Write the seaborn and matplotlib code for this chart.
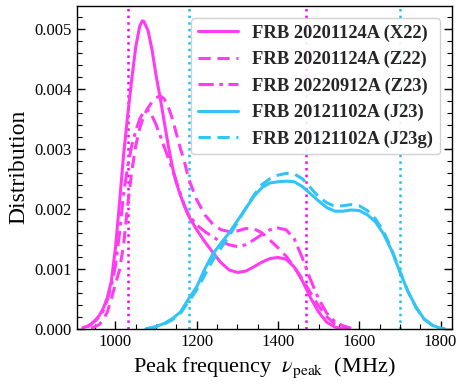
import numpy as np
import pandas as pd
import matplotlib
matplotlib.use("Agg")
import matplotlib.pyplot as plt
from matplotlib.ticker import MultipleLocator
import seaborn as sns

# ---- data ----
x22_f = [920, 930, 940, 950, 960, 970, 980, 990, 1000, 1010, 1020, 1030, 1040, 1050, 1060, 1066, 1070,
         1080, 1090, 1100, 1110, 1120, 1130, 1140, 1150, 1160, 1170, 1180, 1200, 1220, 1240, 1260, 1280,
         1300, 1320, 1340, 1360, 1380, 1400, 1420, 1440, 1460, 1480, 1500, 1520, 1540, 1560]
x22_d = [0.00002, 0.00004, 0.00008, 0.00014, 0.00022, 0.00034, 0.00052, 0.00080, 0.00135, 0.00210,
         0.00290, 0.00355, 0.00415, 0.00470, 0.00505, 0.00513, 0.00512, 0.00497, 0.00465, 0.00422,
         0.00385, 0.00345, 0.00305, 0.00270, 0.00243, 0.00222, 0.00204, 0.00188, 0.00165, 0.00145,
         0.00127, 0.00110, 0.00098, 0.00094, 0.00096, 0.00103, 0.00111, 0.00117, 0.00119, 0.00116,
         0.00103, 0.00080, 0.00052, 0.00028, 0.00011, 0.00003, 0.00000]

z22_f = [940, 960, 970, 980, 990, 1000, 1010, 1020, 1030, 1040, 1050, 1060, 1070, 1080, 1090, 1100,
         1110, 1120, 1130, 1140, 1150, 1160, 1170, 1180, 1200, 1220, 1240, 1260, 1280, 1300, 1320,
         1340, 1360, 1380, 1400, 1420, 1440, 1460, 1480, 1500, 1520, 1540, 1560, 1580]
z22_d = [0.00001, 0.00007, 0.00015, 0.00028, 0.00050, 0.00075, 0.00098, 0.00140, 0.00205, 0.00262,
         0.00305, 0.00335, 0.00355, 0.00368, 0.00378, 0.00385, 0.00388, 0.00383, 0.00370, 0.00350,
         0.00325, 0.00300, 0.00278, 0.00250, 0.00215, 0.00190, 0.00174, 0.00165, 0.00162, 0.00163,
         0.00167, 0.00167, 0.00160, 0.00148, 0.00135, 0.00121, 0.00103, 0.00083, 0.00060, 0.00038,
         0.00020, 0.00008, 0.00002, 0.00000]

z23_f = [930, 940, 950, 960, 970, 980, 990, 1000, 1010, 1020, 1030, 1040, 1050, 1060, 1070, 1077,
         1085, 1090, 1100, 1110, 1120, 1130, 1140, 1150, 1160, 1170, 1180, 1200, 1220, 1240, 1260,
         1280, 1300, 1320, 1340, 1360, 1380, 1400, 1420, 1440, 1460, 1480, 1500, 1520, 1540, 1560, 1580]
z23_d = [0.00003, 0.00008, 0.00013, 0.00020, 0.00030, 0.00048, 0.00072, 0.00105, 0.00160, 0.00225,
         0.00270, 0.00305, 0.00330, 0.00350, 0.00362, 0.00365, 0.00362, 0.00355, 0.00340, 0.00322,
         0.00303, 0.00285, 0.00265, 0.00245, 0.00225, 0.00205, 0.00190, 0.00173, 0.00162, 0.00153,
         0.00145, 0.00140, 0.00137, 0.00140, 0.00148, 0.00157, 0.00165, 0.00168, 0.00165, 0.00150,
         0.00118, 0.00082, 0.00050, 0.00026, 0.00012, 0.00005, 0.00001]

j23_f = [1075, 1100, 1120, 1140, 1160, 1180, 1200, 1220, 1240, 1260, 1280, 1300, 1320, 1340, 1360,
         1380, 1400, 1420, 1440, 1460, 1480, 1500, 1520, 1540, 1560, 1580, 1600, 1620, 1640, 1660,
         1680, 1700, 1720, 1740, 1760, 1780, 1800, 1810]
j23_d = [0.00000, 0.00004, 0.00009, 0.00017, 0.00028, 0.00050, 0.00070, 0.00100, 0.00125, 0.00143,
         0.00160, 0.00180, 0.00200, 0.00220, 0.00235, 0.00243, 0.00245, 0.00246, 0.00245, 0.00237,
         0.00225, 0.00213, 0.00202, 0.00196, 0.00196, 0.00198, 0.00197, 0.00190, 0.00178, 0.00158,
         0.00130, 0.00095, 0.00062, 0.00036, 0.00016, 0.00006, 0.00001, 0.00000]

j23g_f = j23_f
j23g_d = [0.00000, 0.00003, 0.00008, 0.00015, 0.00026, 0.00045, 0.00065, 0.00090, 0.00115, 0.00135,
          0.00155, 0.00177, 0.00200, 0.00222, 0.00240, 0.00250, 0.00256, 0.00259, 0.00258, 0.00250,
          0.00235, 0.00220, 0.00210, 0.00204, 0.00205, 0.00207, 0.00205, 0.00197, 0.00183, 0.00162,
          0.00132, 0.00096, 0.00062, 0.00035, 0.00016, 0.00006, 0.00001, 0.00000]

labels = ["FRB 20201124A (X22)", "FRB 20201124A (Z22)", "FRB 20220912A (Z23)",
          "FRB 20121102A (J23)", "FRB 20121102A (J23g)"]
vlines_magenta = [1030, 1470]
vlines_cyan = [1180, 1700]

# ---- style ----
sns.set_theme(style="ticks")
plt.rcParams["font.family"] = ["Liberation Serif", "DejaVu Serif"]
plt.rcParams["mathtext.fontset"] = "stix"

MAG = "#ff3cf2"
CYA = "#32c4f4"

fig = plt.figure(figsize=(4.63, 3.91), dpi=100)
ax = fig.add_axes([0.166, 0.159, 0.810, 0.826])

series = [
    (x22_f, x22_d, MAG, "-"),
    (z22_f, z22_d, MAG, (0, (4, 2.2))),
    (z23_f, z23_d, MAG, (0, (5, 1.8, 1.2, 1.8))),
    (j23_f, j23_d, CYA, "-"),
    (j23g_f, j23g_d, CYA, (0, (4, 2.2))),
]
for (f, d, c, ls), lab in zip(series, labels):
    sns.lineplot(x=f, y=d, ax=ax, color=c, linestyle=ls, linewidth=2.2, label=lab,
                 sort=False, estimator=None)

for v in vlines_magenta:
    ax.axvline(v, color="#ff00ff", linestyle=":", linewidth=1.8, zorder=0.5)
for v in vlines_cyan:
    ax.axvline(v, color="#1ec0f0", linestyle=":", linewidth=1.8, zorder=0.5)

ax.set_xlim(905, 1828)
ax.set_ylim(0, 0.00538)
ax.xaxis.set_major_locator(MultipleLocator(200))
ax.xaxis.set_minor_locator(MultipleLocator(50))
ax.yaxis.set_major_locator(MultipleLocator(0.001))
ax.yaxis.set_minor_locator(MultipleLocator(0.0002))
ax.yaxis.set_major_formatter(matplotlib.ticker.FormatStrFormatter("%.3f"))
ax.tick_params(which="both", direction="in", right=True, top=False, labelsize=12, colors="black")
ax.tick_params(which="major", length=6, width=1)
ax.tick_params(which="minor", length=3.5, width=0.8)
for s in ax.spines.values():
    s.set_color("black")
    s.set_linewidth(1.0)

ax.set_xlabel(r"Peak frequency  $\nu_{\rm peak}$  (MHz)", fontsize=16, color="black")
ax.set_ylabel("Distribution", fontsize=17, color="black")

leg = ax.legend(loc="upper right", prop={"family": "Liberation Serif", "weight": "bold", "size": 13.3},
                handlelength=2.15, handletextpad=0.8, borderpad=0.35, frameon=True, fancybox=True,
                framealpha=0.9, edgecolor="#cccccc", borderaxespad=0.65, labelspacing=0.5)

fig.savefig("out.png", dpi=100)
